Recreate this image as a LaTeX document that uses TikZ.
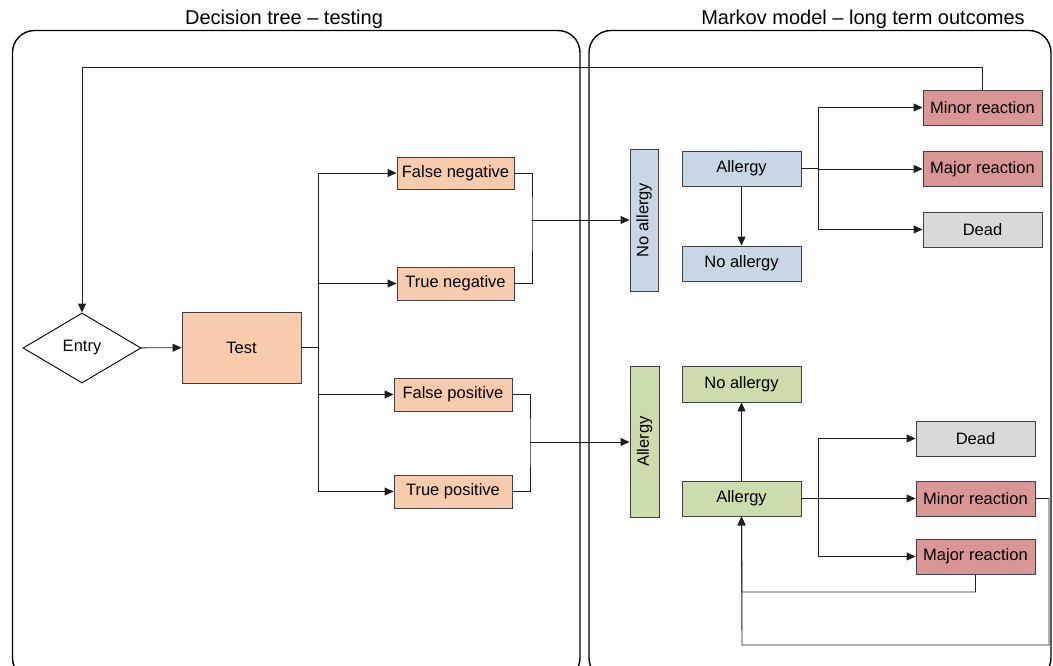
\documentclass[tikz,border=0pt]{standalone}
\usepackage{fontspec}
\setmainfont{Liberation Sans}
\usetikzlibrary{arrows.meta,shapes.geometric,positioning}
\definecolor{testorange}{RGB}{248,203,173}
\definecolor{negblue}{RGB}{200,214,230}
\definecolor{posgreen}{RGB}{205,220,172}
\definecolor{reactred}{RGB}{217,150,148}
\definecolor{deadgray}{RGB}{217,217,217}
\definecolor{edgegray}{RGB}{64,64,64}
\definecolor{linkgray}{RGB}{30,30,30}
\tikzset{
  statebox/.style={draw=edgegray,line width=0.9pt,minimum width=119pt,minimum height=35pt,
    inner sep=0pt,font=\fontsize{16.5}{19}\selectfont},
  sidebox/.style={statebox,minimum height=28pt,rotate=90},
  link/.style={draw=linkgray,line width=0.9pt},
  arr/.style={link,-{Triangle[length=9pt,width=8pt]}},
  frame/.style={draw=black,line width=1.4pt,rounded corners=22pt},
  paneltitle/.style={font=\fontsize{20}{24}\selectfont,anchor=base}
}

\begin{document}
\begin{tikzpicture}[x=1pt,y=-1pt]
  \clip (0,0) rectangle (1053,666);
  % panels
  \draw[frame] (12.5,30.5) rectangle (580,680);
  \draw[frame] (589,30.5) rectangle (1051,680);
  \node[paneltitle] (dtitle) at (284,25) {Decision tree – testing};
  \node[paneltitle] (mtitle) at (863,25) {Markov model – long term outcomes};

  % decision tree
  \node[draw=black,line width=0.9pt,diamond,aspect=1.7,minimum width=118pt,minimum height=70pt,
        inner sep=0pt,font=\fontsize{16.5}{19}\selectfont] (entry) at (82,348) {Entry};
  \node[statebox,fill=testorange,minimum height=71pt] (test) at (241.5,347.5) {Test};
  \node[statebox,fill=testorange,minimum width=117pt,minimum height=32pt] (fneg) at (455.5,173) {False negative};
  \node[statebox,fill=testorange,minimum width=117pt,minimum height=33pt] (tneg) at (455.5,283.5) {True negative};
  \node[statebox,fill=testorange,minimum width=118pt,minimum height=33pt] (fpos) at (453,394.5) {False positive};
  \node[statebox,fill=testorange,minimum width=118pt,minimum height=33pt] (tpos) at (453,491.5) {True positive};

  % markov states
  \node[sidebox,fill=negblue,minimum width=142pt] (noall) at (644,220) {No allergy};
  \node[sidebox,fill=posgreen,minimum width=151pt,minimum height=29pt] (yesall) at (644.5,441.5) {Allergy};

  \node[statebox,fill=negblue] (nAllergy) at (741.5,168.5) {Allergy};
  \node[statebox,fill=negblue] (nNoAllergy) at (741.5,263.5) {No allergy};
  \node[statebox,fill=reactred] (nMinor) at (982.5,107.5) {Minor reaction};
  \node[statebox,fill=reactred] (nMajor) at (982.5,169) {Major reaction};
  \node[statebox,fill=deadgray] (nDead) at (982.5,229.5) {Dead};

  \node[statebox,fill=posgreen,minimum height=36pt] (pNoAllergy) at (741.5,384) {No allergy};
  \node[statebox,fill=posgreen] (pAllergy) at (741.5,498.5) {Allergy};
  \node[statebox,fill=deadgray] (pDead) at (975.5,438.5) {Dead};
  \node[statebox,fill=reactred] (pMinor) at (975.5,498.5) {Minor reaction};
  \node[statebox,fill=reactred] (pMajor) at (975.5,556.5) {Major reaction};

  % junction points
  \coordinate (testsplit) at (318,347.5);
  \coordinate (negmerge) at (532,220);
  \coordinate (posmerge) at (530,442);
  \coordinate (nsplit) at (818,168.5);
  \coordinate (psplit) at (818,498.5);
  \coordinate (backtop) at (82,67);
  \coordinate (backmajor) at (742,592);
  \coordinate (backminor) at (1049,645);
  \coordinate (backminorend) at (742,645);

  % connectors
  \draw[arr] (entry) -- (test);
  \draw[link] (test.east) -- (testsplit);
  \foreach \leaf in {fneg,tneg,fpos,tpos}
    \draw[arr] (testsplit) |- (\leaf.west);
  \draw[link] (fneg.east) -| (negmerge) |- (tneg.east);
  \draw[link] (fpos.east) -| (posmerge) |- (tpos.east);
  \draw[arr] (negmerge) -- (noall.north |- negmerge);
  \draw[arr] (posmerge) -- (yesall.north |- posmerge);

  \draw[arr] (nAllergy) -- (nNoAllergy);
  \draw[link] (nAllergy.east) -- (nsplit);
  \foreach \leaf in {nMinor,nMajor,nDead}
    \draw[arr] (nsplit) |- (\leaf.west);
  \draw[arr] (nMinor.north) |- (backtop) -- (entry.north);

  \draw[arr] (pAllergy) -- (pNoAllergy);
  \draw[link] (pAllergy.east) -- (psplit);
  \foreach \leaf in {pDead,pMinor,pMajor}
    \draw[arr] (psplit) |- (\leaf.west);
  \draw[arr] (pMajor.south) |- (backmajor) -- (pAllergy.south);
  \draw[arr] (pMinor.east) -| (backminor) -- (backminorend) -- (pAllergy.south);
\end{tikzpicture}
\end{document}
